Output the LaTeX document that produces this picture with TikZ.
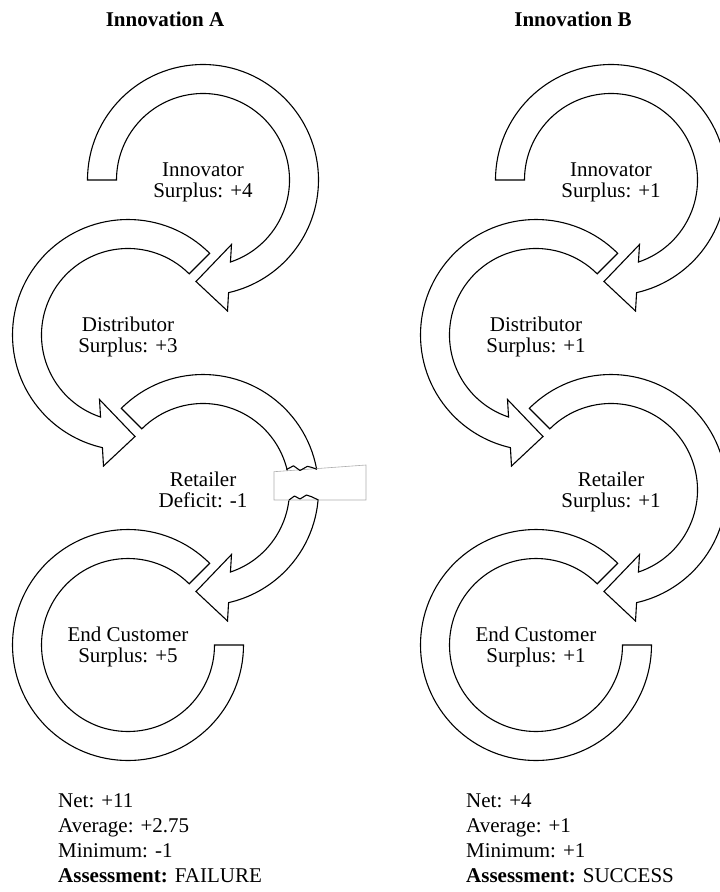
\documentclass[tikz,border=0pt]{standalone}
\usepackage{fontspec}
\setmainfont{Liberation Serif}
\begin{document}
\begin{tikzpicture}[x=1pt,y=-1pt,
  flow/.style={draw=black,fill=white,line width=1.1pt,line join=miter},
  lbl/.style={font=\fontsize{21}{22}\selectfont,inner sep=0pt,anchor=base},
  ttl/.style={font=\fontsize{21}{22}\selectfont\bfseries,inner sep=0pt,anchor=base},
  stat/.style={font=\fontsize{21}{22}\selectfont,inner sep=0pt,anchor=base west},
  breakbox/.style={draw=black!32,fill=white,line width=0.6pt},
  jag/.style={draw=black,line width=1.1pt,line join=round}]
\path[use as bounding box] (0,0) rectangle (720,892);

% ---------- column A ----------
\node[ttl] (titleA) at (165,26) {Innovation A};

% innovator: clockwise from the left, head at the bottom
\begin{scope}[shift={(203,180)}]
\draw[flow] (180:115.5) arc[start angle=180,end angle=437.2,radius=115.5]
  -- (24.5,131) -- (-7,101.5) -- (28.5,64.5) -- (71.5:86.5)
  arc[start angle=431.5,end angle=180,radius=86.5] -- cycle;
\end{scope}
% distributor: counter-clockwise, head at the bottom
\begin{scope}[shift={(128,335)}]
\draw[flow] (315:115.5) arc[start angle=315,end angle=102.8,radius=115.5]
  -- (-24.5,131) -- (7,101.5) -- (-28.5,64.5) -- (108.5:86.5)
  arc[start angle=108.5,end angle=315,radius=86.5] -- cycle;
\end{scope}
% retailer: clockwise from the upper left
\begin{scope}[shift={(203,490)}]
\draw[flow] (225:115.5) arc[start angle=225,end angle=437.2,radius=115.5]
  -- (24.5,131) -- (-7,101.5) -- (28.5,64.5) -- (71.5:86.5)
  arc[start angle=431.5,end angle=225,radius=86.5] -- cycle;
\end{scope}
% end customer: counter-clockwise, open ring without head
\begin{scope}[shift={(128,645)}]
\draw[flow] (315:115.5) arc[start angle=315,end angle=0,radius=115.5]
  -- (0:86.5) arc[start angle=0,end angle=315,radius=86.5] -- cycle;
\end{scope}

% broken link at the retailer
\draw[breakbox] (274,471.7) -- (366,465) -- (366,500) -- (274,500) -- cycle;
\draw[jag] (286.5,469.5) -- (293.5,465.8) -- (300,470.5) -- (307.5,466.3) -- (312,467.5) -- (317,469.3);
\draw[jag] (289,500) -- (294.5,496) -- (300,499) -- (306.5,495) -- (311,496.5) -- (318.5,500);

\node[lbl] (innA1) at (203,176) {Innovator};
\node[lbl] (innA2) at (203,197.5) {Surplus: +4};
\node[lbl] (disA1) at (128,331) {Distributor};
\node[lbl] (disA2) at (128,352.5) {Surplus: +3};
\node[lbl] (retA1) at (203,486) {Retailer};
\node[lbl] (retA2) at (203,507.5) {Deficit: -1};
\node[lbl] (cusA1) at (128,641) {End Customer};
\node[lbl] (cusA2) at (128,662.5) {Surplus: +5};

\node[stat] (netA) at (58,807) {Net: +11};
\node[stat] (avgA) at (58,832) {Average: +2.75};
\node[stat] (minA) at (58,857) {Minimum: -1};
\node[stat] (assA) at (58,882) {\textbf{Assessment:} FAILURE};

% ---------- column B ----------
\node[ttl] (titleB) at (573,26) {Innovation B};

\begin{scope}[shift={(611,180)}]
\draw[flow] (180:115.5) arc[start angle=180,end angle=437.2,radius=115.5]
  -- (24.5,131) -- (-7,101.5) -- (28.5,64.5) -- (71.5:86.5)
  arc[start angle=431.5,end angle=180,radius=86.5] -- cycle;
\end{scope}
\begin{scope}[shift={(536,335)}]
\draw[flow] (315:115.5) arc[start angle=315,end angle=102.8,radius=115.5]
  -- (-24.5,131) -- (7,101.5) -- (-28.5,64.5) -- (108.5:86.5)
  arc[start angle=108.5,end angle=315,radius=86.5] -- cycle;
\end{scope}
\begin{scope}[shift={(611,490)}]
\draw[flow] (225:115.5) arc[start angle=225,end angle=437.2,radius=115.5]
  -- (24.5,131) -- (-7,101.5) -- (28.5,64.5) -- (71.5:86.5)
  arc[start angle=431.5,end angle=225,radius=86.5] -- cycle;
\end{scope}
\begin{scope}[shift={(536,645)}]
\draw[flow] (315:115.5) arc[start angle=315,end angle=0,radius=115.5]
  -- (0:86.5) arc[start angle=0,end angle=315,radius=86.5] -- cycle;
\end{scope}

\node[lbl] (innB1) at (611,176) {Innovator};
\node[lbl] (innB2) at (611,197.5) {Surplus: +1};
\node[lbl] (disB1) at (536,331) {Distributor};
\node[lbl] (disB2) at (536,352.5) {Surplus: +1};
\node[lbl] (retB1) at (611,486) {Retailer};
\node[lbl] (retB2) at (611,507.5) {Surplus: +1};
\node[lbl] (cusB1) at (536,641) {End Customer};
\node[lbl] (cusB2) at (536,662.5) {Surplus: +1};

\node[stat] (netB) at (466,807) {Net: +4};
\node[stat] (avgB) at (466,832) {Average: +1};
\node[stat] (minB) at (466,857) {Minimum: +1};
\node[stat] (assB) at (466,882) {\textbf{Assessment:} SUCCESS};
\end{tikzpicture}
\end{document}
